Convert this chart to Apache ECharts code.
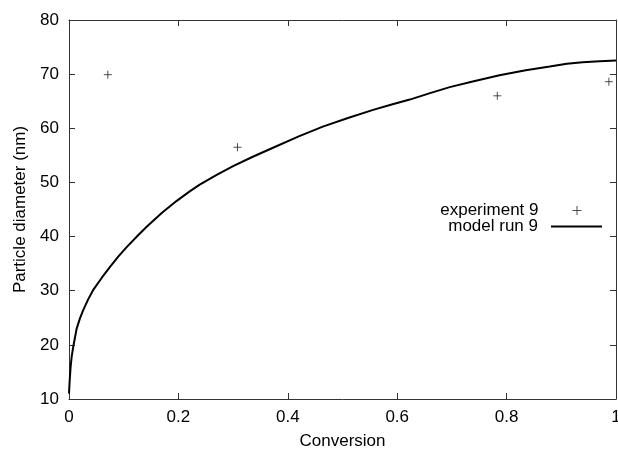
<!DOCTYPE html>
<html>
<head>
<meta charset="utf-8">
<script src="https://cdn.jsdelivr.net/npm/echarts@6/dist/echarts.min.js"></script>
<style>
  html, body { margin: 0; padding: 0; background: #fff; }
  #chart { width: 618px; height: 453px; }
</style>
</head>
<body>
<div id="chart"></div>
<script>
// Measured particle diameters (experiment 9)
const expConversion = [0.071, 0.308, 0.783, 0.987];
const expDiameter = [69.9, 56.5, 66.0, 68.6];

// Model prediction (model run 9)
const modelConversion = [0, 0.001, 0.003, 0.005, 0.008, 0.014, 0.020, 0.026, 0.035, 0.044, 0.060, 0.075, 0.090, 0.105, 0.125, 0.142, 0.170, 0.197, 0.220, 0.239, 0.270, 0.300, 0.335, 0.373, 0.420, 0.464, 0.510, 0.556, 0.590, 0.623, 0.660, 0.696, 0.740, 0.787, 0.835, 0.879, 0.910, 0.939, 0.970, 1.0];
const modelDiameter = [11.0, 13.0, 16.0, 17.9, 19.8, 23.0, 24.9, 26.4, 28.4, 30.1, 32.4, 34.4, 36.3, 38.0, 40.1, 41.8, 44.4, 46.6, 48.3, 49.6, 51.4, 53.0, 54.7, 56.4, 58.5, 60.3, 61.9, 63.4, 64.4, 65.3, 66.5, 67.6, 68.7, 69.8, 70.7, 71.4, 71.9, 72.2, 72.4, 72.5];

// Axis ticks
const xTicks = { min: 0, max: 1, interval: 0.2 };
const yTicks = { min: 10, max: 80, interval: 10 };

const FONT = "'Liberation Sans', Arial, Helvetica, sans-serif";
const FONT_SIZE = 17;
const AXIS_COLOR = '#333';
const PLUS = 'path://M0,5 L10,5 M5,0 L5,10';

const chart = echarts.init(document.getElementById('chart'), null, { renderer: 'canvas' });

function frameAxis(extra) {
  return Object.assign({
    type: 'value',
    axisLine: { show: true, onZero: false, lineStyle: { color: AXIS_COLOR, width: 1 } },
    axisTick: { show: true, inside: true, length: 6, lineStyle: { color: AXIS_COLOR, width: 1 } },
    splitLine: { show: false },
    axisLabel: { show: false }
  }, extra);
}

const labelStyle = { color: '#000', fontFamily: FONT, fontSize: FONT_SIZE, margin: 10 };
const nameStyle = { color: '#000', fontFamily: FONT, fontSize: FONT_SIZE };

chart.setOption({
  animation: false,
  backgroundColor: '#fff',
  grid: { left: 69, right: 2, top: 20, bottom: 54, containLabel: false, outerBoundsMode: 'none' },
  xAxis: [
    frameAxis({
      position: 'bottom', min: xTicks.min, max: xTicks.max, interval: xTicks.interval,
      axisLabel: Object.assign({ show: true }, labelStyle),
      name: 'Conversion', nameLocation: 'middle', nameGap: 34,
      nameTextStyle: nameStyle
    }),
    frameAxis({ position: 'top', min: xTicks.min, max: xTicks.max, interval: xTicks.interval })
  ],
  yAxis: [
    frameAxis({
      position: 'left', min: yTicks.min, max: yTicks.max, interval: yTicks.interval,
      axisLabel: Object.assign({ show: true }, labelStyle),
      name: 'Particle diameter (nm)', nameLocation: 'middle', nameGap: 40, nameRotate: 90,
      nameTextStyle: nameStyle
    }),
    frameAxis({ position: 'right', min: yTicks.min, max: yTicks.max, interval: yTicks.interval })
  ],
  legend: [
    {
      data: [{ name: 'experiment 9', icon: PLUS }],
      orient: 'vertical', align: 'right', right: 36, top: 202, padding: 0,
      itemWidth: 9, itemHeight: 9,
      itemStyle: { color: 'transparent', borderColor: '#222', borderWidth: 1 },
      textStyle: { color: '#000', fontFamily: FONT, fontSize: FONT_SIZE, padding: [0, 29, 0, 0] }
    },
    {
      data: [{ name: 'model run 9', icon: 'rect' }],
      orient: 'vertical', align: 'right', right: 16, top: 218, padding: 0,
      itemWidth: 51, itemHeight: 2,
      itemStyle: { color: '#000', borderWidth: 0 },
      textStyle: { color: '#000', fontFamily: FONT, fontSize: FONT_SIZE, padding: [0, 8, 0, 0] }
    }
  ],
  series: [
    {
      name: 'experiment 9',
      type: 'scatter',
      xAxisIndex: 0, yAxisIndex: 0,
      symbol: PLUS,
      symbolSize: 8,
      itemStyle: { color: 'transparent', borderColor: '#222', borderWidth: 1 },
      data: expConversion.map((c, i) => [c, expDiameter[i]]),
      z: 3
    },
    {
      name: 'model run 9',
      type: 'line',
      xAxisIndex: 0, yAxisIndex: 0,
      symbol: 'none',
      showSymbol: false,
      smooth: false,
      lineStyle: { color: '#000', width: 2 },
      itemStyle: { color: '#000' },
      data: modelConversion.map((c, i) => [c, modelDiameter[i]]),
      z: 2
    }
  ]
});
</script>
</body>
</html>
